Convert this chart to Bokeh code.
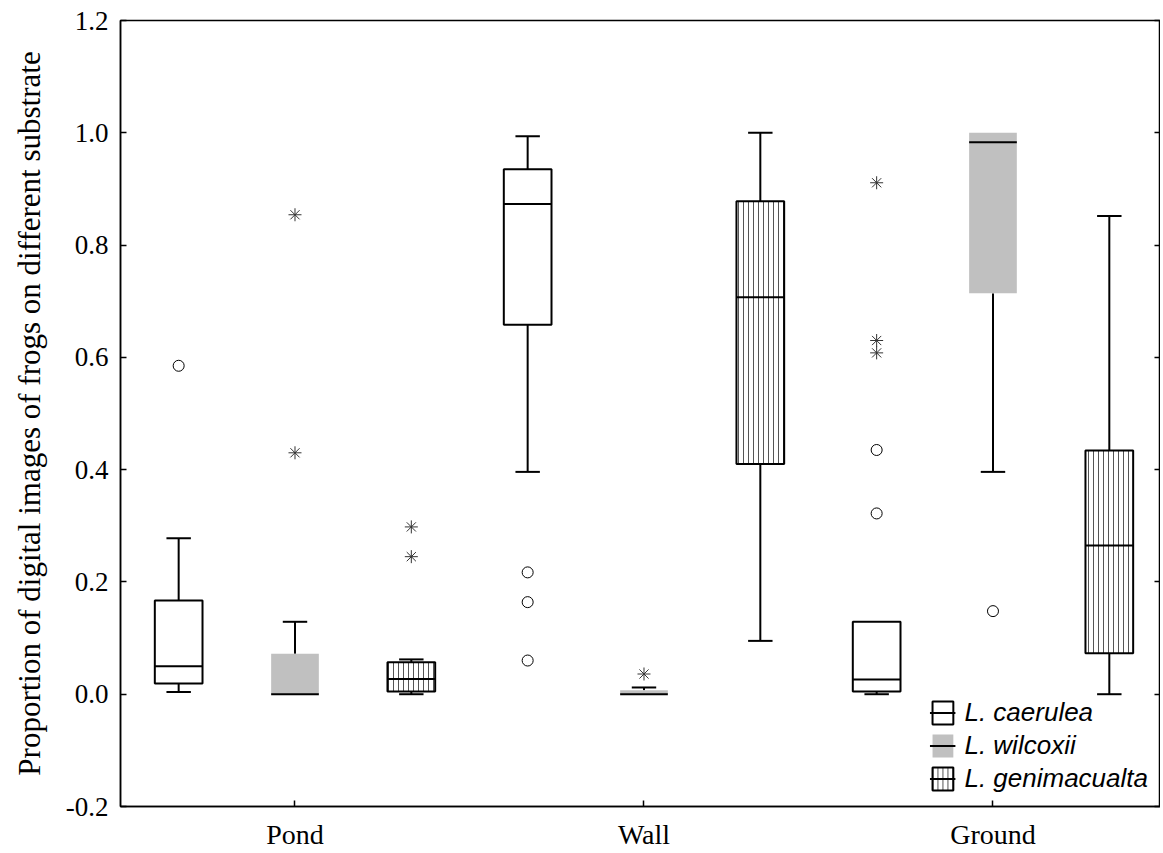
import numpy as np
from bokeh.plotting import figure
from bokeh.models import (ColumnDataSource, Range1d, LinearAxis, FixedTicker,
                          PrintfTickFormatter, Legend, LegendItem)
from bokeh.embed import file_html
from bokeh.resources import INLINE

# ---------------- data ----------------
substrates = ["Pond", "Wall", "Ground"]
species = ["L. caerulea", "L. wilcoxii", "L. genimacualta"]

# one entry per box, substrate-major order
box_substrate = ["Pond", "Pond", "Pond", "Wall", "Wall", "Wall", "Ground", "Ground", "Ground"]
box_species = ["L. caerulea", "L. wilcoxii", "L. genimacualta"] * 3
whisker_low = [0.004, 0.000, 0.000, 0.396, 0.000, 0.095, 0.000, 0.396, 0.000]
q1 = [0.019, 0.000, 0.005, 0.658, 0.000, 0.410, 0.005, 0.714, 0.073]
median = [0.050, 0.000, 0.027, 0.873, 0.000, 0.707, 0.026, 0.983, 0.265]
q3 = [0.167, 0.072, 0.057, 0.935, 0.007, 0.878, 0.129, 1.000, 0.434]
whisker_high = [0.278, 0.129, 0.062, 0.994, 0.012, 1.000, 0.129, 1.000, 0.852]

# outliers (circles) and extremes (asterisks): box index + value
outlier_box = [0, 3, 3, 3, 6, 6, 7]
outlier_value = [0.585, 0.217, 0.164, 0.060, 0.435, 0.322, 0.148]
extreme_box = [1, 1, 2, 2, 4, 6, 6, 6]
extreme_value = [0.854, 0.430, 0.298, 0.245, 0.036, 0.911, 0.630, 0.608]

y_ticks = [-0.2, 0.0, 0.2, 0.4, 0.6, 0.8, 1.0, 1.2]
y_label = "Proportion of digital images of frogs on different substrate"

# ---------------- layout / style ----------------
BOX_W = 0.41
CAP_W = 0.21
SERIF = "Liberation Serif"

def slot(sub, sp):
    return substrates.index(sub) * 3 + species.index(sp) + 0.5

box_x = [slot(s, sp) for s, sp in zip(box_substrate, box_species)]
group_x = [3 * i + 1.5 for i in range(len(substrates))]

styles = {
    "L. caerulea": dict(fill_color="white", line_color="black", line_width=2),
    "L. wilcoxii": dict(fill_color="#c0c0c0", line_color=None),
    "L. genimacualta": dict(fill_color="white", line_color="black", line_width=2,
                            hatch_pattern="vertical_line", hatch_color="#555555",
                            hatch_scale=5, hatch_weight=1),
}

p = figure(width=1160, height=852, output_backend="svg", toolbar_location=None,
           x_range=Range1d(0, 8.94), y_range=Range1d(-0.2, 1.2),
           min_border_left=120, min_border_right=0, min_border_top=20,
           min_border_bottom=46)
p.xgrid.visible = False
p.ygrid.visible = False
p.outline_line_color = "black"
p.outline_line_width = 1.5
p.background_fill_color = "white"
p.border_fill_color = "white"

# x axis
xa = p.xaxis[0]
xa.ticker = FixedTicker(ticks=group_x)
xa.major_label_overrides = {gx: name for gx, name in zip(group_x, substrates)}
xa.major_tick_in = 6
xa.major_tick_out = 0
xa.minor_tick_line_color = None
xa.axis_line_width = 1.5
xa.major_tick_line_width = 1.5
xa.major_label_text_font = SERIF
xa.major_label_text_font_size = "28px"
xa.major_label_text_color = "black"
xa.major_label_standoff = 12

# left y axis
ya = p.yaxis[0]
ya.ticker = FixedTicker(ticks=y_ticks)
ya.formatter = PrintfTickFormatter(format="%.1f")
ya.major_tick_in = 6
ya.major_tick_out = 0
ya.minor_tick_line_color = None
ya.axis_line_width = 1.5
ya.major_tick_line_width = 1.5
ya.major_label_text_font = SERIF
ya.major_label_text_font_size = "27px"
ya.major_label_text_color = "black"
ya.major_label_standoff = 12
ya.axis_label = y_label
ya.axis_label_text_font = SERIF
ya.axis_label_text_font_size = "31px"
ya.axis_label_text_font_style = "normal"
ya.axis_label_text_color = "black"
ya.axis_label_standoff = 16

# right axis: ticks only
ra = LinearAxis(ticker=FixedTicker(ticks=y_ticks),
                major_label_overrides={t: "" for t in y_ticks},
                major_tick_in=6, major_tick_out=0, major_label_standoff=0,
                minor_tick_line_color=None, axis_line_color=None,
                major_tick_line_width=1.5)
p.add_layout(ra, "right")

# ---------------- boxes ----------------
legend_items = []
for sp in species:
    idx = [i for i, s in enumerate(box_species) if s == sp]
    x = [box_x[i] for i in idx]
    src = ColumnDataSource(dict(
        x=x,
        q1=[q1[i] for i in idx], q3=[q3[i] for i in idx],
        med=[median[i] for i in idx],
        lo=[whisker_low[i] for i in idx], hi=[whisker_high[i] for i in idx],
        x0=[v - BOX_W / 2 for v in x], x1=[v + BOX_W / 2 for v in x],
    ))
    p.segment(x0="x", y0="q3", x1="x", y1="hi", source=src, line_color="black", line_width=2)
    p.segment(x0="x", y0="q1", x1="x", y1="lo", source=src, line_color="black", line_width=2)
    br = p.vbar(x="x", width=BOX_W, bottom="q1", top="q3", source=src, **styles[sp])
    mr = p.segment(x0="x0", y0="med", x1="x1", y1="med", source=src,
                   line_color="black", line_width=2)
    legend_items.append(LegendItem(label=sp, renderers=[br, mr]))

# caps (only where the whisker extends beyond the box)
cap_x0, cap_x1, cap_y = [], [], []
for i in range(len(box_x)):
    if whisker_high[i] > q3[i] + 1e-9:
        cap_x0.append(box_x[i] - CAP_W / 2); cap_x1.append(box_x[i] + CAP_W / 2); cap_y.append(whisker_high[i])
    if whisker_low[i] < q1[i] - 1e-9:
        cap_x0.append(box_x[i] - CAP_W / 2); cap_x1.append(box_x[i] + CAP_W / 2); cap_y.append(whisker_low[i])
p.segment(x0=cap_x0, y0=cap_y, x1=cap_x1, y1=cap_y, line_color="black", line_width=2)

# outliers and extremes
p.scatter(x=[box_x[i] for i in outlier_box], y=outlier_value, marker="circle",
          size=11, fill_color="white", line_color="black", line_width=1)
p.scatter(x=[box_x[i] for i in extreme_box], y=extreme_value, marker="asterisk",
          size=13, line_color="#333333", line_width=1)

legend = Legend(items=legend_items, location="bottom_right",
                label_text_font="Liberation Sans", label_text_font_style="italic",
                label_text_font_size="26px", label_text_color="black",
                glyph_width=26, glyph_height=29, label_height=26, label_standoff=9,
                spacing=2, padding=2, margin=12,
                background_fill_alpha=0, border_line_color=None)
p.add_layout(legend)

open("out.html", "w").write(file_html(p, INLINE))
